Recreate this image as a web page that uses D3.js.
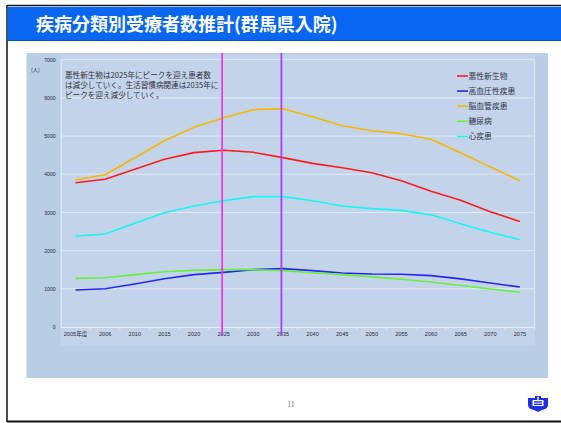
<!DOCTYPE html>
<html lang="ja">
<head>
<meta charset="utf-8">
<script src="https://cdn.jsdelivr.net/npm/d3@7"></script>
<style>
  html, body { margin: 0; padding: 0; background: #ffffff; }
  svg { display: block; }
</style>
</head>
<body>
<svg id="slide" width="561" height="423"></svg>
<script>
// Projection years (first one is the base fiscal year)
const categories = ["2005年度","2006","2010","2015","2020","2025","2030","2035","2040","2045","2050","2055","2060","2065","2070","2075"];

// Estimated inpatient counts per disease group (persons)
const malignant       = [3778, 3866, 4128, 4389, 4564, 4625, 4573, 4433, 4284, 4171, 4040, 3830, 3555, 3320, 3019, 2762];
const hypertension    = [969, 1003, 1126, 1265, 1370, 1431, 1501, 1527, 1475, 1414, 1387, 1379, 1344, 1260, 1150, 1047];
const cerebrovascular = [3856, 3987, 4432, 4877, 5227, 5480, 5689, 5715, 5505, 5270, 5139, 5061, 4913, 4560, 4192, 3830];
const diabetes        = [1274, 1291, 1370, 1448, 1483, 1501, 1501, 1475, 1422, 1370, 1312, 1252, 1180, 1085, 995, 908];
const heart           = [2374, 2435, 2714, 2993, 3168, 3307, 3412, 3412, 3307, 3168, 3098, 3054, 2936, 2705, 2482, 2286];

const seriesNames  = ["悪性新生物","高血圧性疾患","脳血管疾患","糖尿病","心疾患"];
const seriesValues = [malignant, hypertension, cerebrovascular, diabetes, heart];
const seriesColors = ["#ff1a1a","#2626ee","#f7b500","#66f03a","#19f4f4"];

const yTicks = [0, 1000, 2000, 3000, 4000, 5000, 6000, 7000];
const peakYears = ["2025", "2035"];
const peakColors = ["#e83ce8", "#b43cf5"];

const titleText = "疾病分類別受療者数推計(群馬県入院)";
const noteLines = [
  "悪性新生物は2025年にピークを迎え患者数",
  "は減少していく。生活習慣病関連は2035年に",
  "ピークを迎え減少していく。"
];
const unitLabel = "(人)";
const pageNumber = "11";

const svg = d3.select("#slide");
const jp = "'Noto Sans CJK JP', 'Noto Sans', sans-serif";

// ---- slide frame ----
svg.append("rect").attr("x", 0).attr("y", 0).attr("width", 561).attr("height", 423).attr("fill", "#ffffff");
svg.append("line").attr("x1", 7).attr("x2", 561).attr("y1", 5.5).attr("y2", 5.5).attr("stroke", "#111").attr("stroke-width", 1.5);
svg.append("line").attr("x1", 7).attr("x2", 7).attr("y1", 5).attr("y2", 422).attr("stroke", "#111").attr("stroke-width", 1.5);
svg.append("line").attr("x1", 7).attr("x2", 561).attr("y1", 421.5).attr("y2", 421.5).attr("stroke", "#111").attr("stroke-width", 2);

// title bar
svg.append("rect").attr("x", 7.5).attr("y", 7).attr("width", 554).attr("height", 34).attr("fill", "#0866f2");
svg.append("line").attr("x1", 7.5).attr("x2", 561).attr("y1", 40.5).attr("y2", 40.5).attr("stroke", "#0a4fb5").attr("stroke-width", 1);
svg.append("text").attr("x", 36).attr("y", 31)
  .attr("font-family", jp).attr("font-weight", "bold").attr("font-size", 18)
  .attr("fill", "#ffffff").text(titleText);

// ---- chart area ----
const chart = { x0: 26.5, y0: 53, x1: 548, y1: 378 };
const plot  = { x0: 60.7, y0: 59.6, x1: 534.7, y1: 327 };

svg.append("rect").attr("x", chart.x0).attr("y", chart.y0)
  .attr("width", chart.x1 - chart.x0).attr("height", chart.y1 - chart.y0)
  .attr("fill", "#b9cde4");
svg.append("rect").attr("x", plot.x0).attr("y", 55)
  .attr("width", plot.x1 - plot.x0).attr("height", 346 - 55)
  .attr("fill", "#c3d4ea");

const x = d3.scaleBand().domain(categories).range([plot.x0, plot.x1]).padding(0);
const xc = d => x(d) + x.bandwidth() / 2;
const y = d3.scaleLinear().domain([0, 7000]).range([plot.y1, plot.y0]);

// gridlines
svg.append("g").selectAll("line").data(yTicks.filter(t => t > 0)).join("line")
  .attr("x1", plot.x0).attr("x2", plot.x1)
  .attr("y1", d => y(d)).attr("y2", d => y(d))
  .attr("stroke", "#e1e9f4").attr("stroke-width", 1);

// right border of the plot
svg.append("line").attr("x1", plot.x1).attr("x2", plot.x1).attr("y1", plot.y0).attr("y2", plot.y1)
  .attr("stroke", "#e1e9f4").attr("stroke-width", 1);

// y axis
const yAxis = d3.axisLeft(y).tickValues(yTicks).tickSize(0).tickPadding(5).tickFormat(d3.format("d"));
const gy = svg.append("g").attr("transform", `translate(${plot.x0},0)`).call(yAxis);
gy.select(".domain").attr("stroke", "#e6edf6").attr("stroke-width", 1);
gy.selectAll("text").attr("font-family", "'Liberation Sans', Arial, sans-serif")
  .attr("font-size", 5.2).attr("fill", "#2c2c3a");

// x axis with ticks at band edges
const xAxis = d3.axisBottom(x).tickSize(0).tickPadding(5);
const gx = svg.append("g").attr("transform", `translate(0,${plot.y1})`).call(xAxis);
gx.select(".domain").attr("stroke", "#e6edf6").attr("stroke-width", 1);
gx.selectAll("text").attr("font-family", "'Liberation Sans', " + jp)
  .attr("font-size", 5.6).attr("fill", "#2c2c3a");
svg.append("g").selectAll("line").data(categories.slice(1).concat(["__end"])).join("line")
  .attr("x1", (d, i) => i < categories.length - 1 ? x(d) : plot.x1)
  .attr("x2", (d, i) => i < categories.length - 1 ? x(d) : plot.x1)
  .attr("y1", plot.y1).attr("y2", plot.y1 + 2.5)
  .attr("stroke", "#e6edf6").attr("stroke-width", 1);

// unit label
svg.append("text").attr("x", 31).attr("y", 71.5)
  .attr("font-family", jp).attr("font-size", 5.2).attr("fill", "#2c2c3a").text(unitLabel);

// series lines
const line = d3.line().x((d, i) => xc(categories[i])).y(d => y(d));
svg.append("g").selectAll("path").data(seriesValues).join("path")
  .attr("d", d => line(d))
  .attr("fill", "none")
  .attr("stroke", (d, i) => seriesColors[i])
  .attr("stroke-width", 1.6)
  .attr("stroke-linejoin", "round");

// peak year markers
svg.append("g").selectAll("line").data(peakYears).join("line")
  .attr("x1", d => xc(d) - 1.5).attr("x2", d => xc(d) - 1.5)
  .attr("y1", chart.y0).attr("y2", 335)
  .attr("stroke", (d, i) => peakColors[i]).attr("stroke-width", 1.8);

// note text
svg.append("g").selectAll("text").data(noteLines).join("text")
  .attr("x", 65).attr("y", (d, i) => 78 + i * 10)
  .attr("font-family", jp).attr("font-size", 7.6).attr("fill", "#333340")
  .text(d => d);

// legend
const legend = svg.append("g").attr("transform", "translate(457,76)");
const items = legend.selectAll("g").data(seriesNames).join("g")
  .attr("transform", (d, i) => `translate(0,${i * 15.1})`);
items.append("line").attr("x1", 0).attr("x2", 11).attr("y1", 0).attr("y2", 0)
  .attr("stroke", (d, i) => seriesColors[i]).attr("stroke-width", 1.6);
items.append("text").attr("x", 11.5).attr("y", 2.8)
  .attr("font-family", jp).attr("font-size", 7.8).attr("fill", "#333348")
  .text(d => d);

// ---- footer ----
svg.append("text").attr("x", 291).attr("y", 407).attr("text-anchor", "middle")
  .attr("font-family", "'Liberation Serif', 'DejaVu Serif', serif").attr("font-size", 8)
  .attr("fill", "#808080").text(pageNumber);

// emblem
const logo = svg.append("g").attr("transform", "translate(528,396)");
logo.append("path")
  .attr("d", "M0,2 L7,2 L7,0 L13,0 L13,2 L20,2 L20,9 Q20,13 14,14 L10,16 L6,14 Q0,13 0,9 Z")
  .attr("fill", "#1f2fe0");
logo.append("rect").attr("x", 4.5).attr("y", 4).attr("width", 11).attr("height", 6).attr("fill", "#ffffff");
logo.append("rect").attr("x", 6).attr("y", 5.2).attr("width", 8).attr("height", 1.4).attr("fill", "#1f2fe0");
logo.append("rect").attr("x", 6).attr("y", 7.6).attr("width", 8).attr("height", 1.4).attr("fill", "#1f2fe0");
logo.append("rect").attr("x", 9.3).attr("y", 0.8).attr("width", 1.4).attr("height", 3.5).attr("fill", "#ffffff");
</script>
</body>
</html>
